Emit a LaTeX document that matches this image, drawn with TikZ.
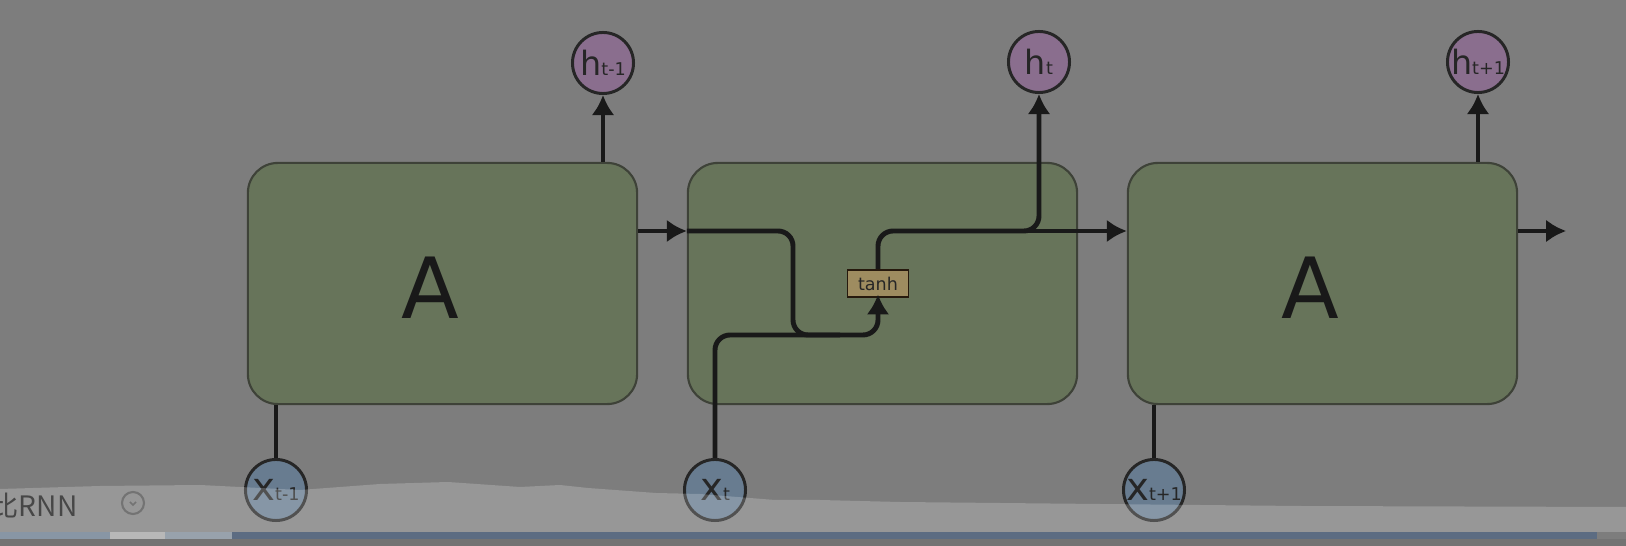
\documentclass[tikz,border=0pt]{standalone}
\usepackage{fontspec}
\setmainfont{DejaVu Sans}
\newfontfamily\cjkfont{Noto Sans CJK SC}
\usetikzlibrary{arrows.meta,positioning,calc}
\definecolor{bggray}{RGB}{125,125,125}
\definecolor{cellgreen}{RGB}{103,116,90}
\definecolor{cellborder}{RGB}{62,66,56}
\definecolor{hpurple}{RGB}{138,110,142}
\definecolor{xblue}{RGB}{104,124,144}
\definecolor{tanhfill}{RGB}{158,140,96}
\definecolor{barlight}{RGB}{136,150,165}
\definecolor{barpale}{RGB}{184,184,184}
\definecolor{barmid}{RGB}{152,162,172}
\definecolor{bardark}{RGB}{92,108,130}
\newcommand{\hlab}[1]{{\fontsize{9.5}{10}\selectfont h}{\fontsize{5}{5}\selectfont #1}}
\newcommand{\xlab}[1]{{\fontsize{11}{11}\selectfont x}{\fontsize{5}{5}\selectfont #1}}

\begin{document}
\begin{tikzpicture}[x=0.01cm,y=-0.01cm,
  cell/.style={draw=cellborder, line width=0.6pt, fill=cellgreen, rounded corners=0.3cm, minimum width=3.89cm, minimum height=2.41cm, inner sep=0},
  hnode/.style={circle, draw=black!85, line width=0.85pt, fill=hpurple, minimum size=0.61cm, inner sep=0, text=black!85},
  xnode/.style={hnode, fill=xblue},
  tanhbox/.style={draw=black!80!brown, line width=0.55pt, fill=tanhfill, minimum width=0.61cm, minimum height=0.27cm, inner sep=0, font=\fontsize{5}{5}\selectfont, text=black!85},
  wire/.style={line width=1.4pt, black!90, rounded corners=0.15cm},
  arr/.style={wire, -{Latex[length=5.7pt,width=6.5pt]}},
]
\useasboundingbox (0,0) rectangle (1626,546);
\fill [bggray] (0,0) rectangle (1626,546);

\node [cell] (A1) at (442.5,283.5) {};
\node [cell] (A2) at (882.5,283.5) {};
\node [cell] (A3) at (1322.5,283.5) {};
\node [font=\fontsize{24}{24}\selectfont, text=black!90] (lblA1) at (430,288) {A};
\node [font=\fontsize{24}{24}\selectfont, text=black!90] (lblA3) at (1310,288) {A};
\node [tanhbox] (tanh) at (878,283.5) {tanh};

\node [hnode] (h1) at (603,63) {\hlab{t-1}};
\node [hnode] (h2) at (1039,62) {\hlab{t}};
\node [hnode] (h3) at (1478,62) {\hlab{t+1}};
\node [xnode] (x1) at (276,490) {\xlab{t-1}};
\node [xnode] (x2) at (715,490) {\xlab{t}};
\node [xnode] (x3) at (1154,490) {\xlab{t+1}};

\coordinate (row) at (0,231);
\draw [arr] (A1.east |- row) -- (A2.west |- row);
\draw [wire] (A2.west |- row) -- (793,231) -- (793,335) -- (840,335); % h_{t-1} into the cell
\draw [arr, shorten >=-1pt] (x2.north) -- (715,335) -- (878,335) -- (tanh.south);
\draw [arr] (tanh.north) -- (878,231) -- (1039,231) -- (h2.south);
\draw [arr] ($(h2 |- row)+(-30,0)$) -- (A3.west |- row);
\draw [arr] (A3.east |- row) -- ++(48,0) coordinate (out3);
\draw [arr] (h1 |- A1.north) -- (h1.south);
\draw [arr] (h3 |- A3.north) -- (h3.south);
\draw [wire] (x1.north) -- (x1 |- A1.south);
\draw [wire] (x3.north) -- (x3 |- A3.south);

% page overlay at the bottom
\fill [white, opacity=0.2] (0,489) -- (100,486) -- (200,485) -- (300,490) -- (380,484) -- (448,482) -- (520,487) -- (560,485) -- (588,488) -- (656,493) -- (700,494) -- (775,500) -- (820,500) -- (900,502) -- (1000,503) -- (1100,504) -- (1300,506) -- (1626,507) -- (1626,532) -- (0,532) -- cycle;
\node [anchor=base west, inner sep=0, font=\cjkfont\fontsize{8}{8}\selectfont, text=black!72] (tabtitle) at (-10,517) {比RNN};
\node [circle, draw=black!55, line width=0.6pt, minimum size=0.22cm, inner sep=0] (foldicon) at (133,503) {};
\draw [black!55, line width=0.5pt] ($(foldicon)+(-3,-1)$) -- ($(foldicon)+(0,2)$) -- ($(foldicon)+(3,-1)$);
\fill [barlight] (0,532) rectangle (110,539);
\fill [barpale] (110,532) rectangle (165,539);
\fill [barmid] (165,532) rectangle (232,539);
\fill [bardark] (232,532) rectangle (1597,539);
\fill [black!55!white] (0,539) rectangle (1626,546);
\end{tikzpicture}
\end{document}
